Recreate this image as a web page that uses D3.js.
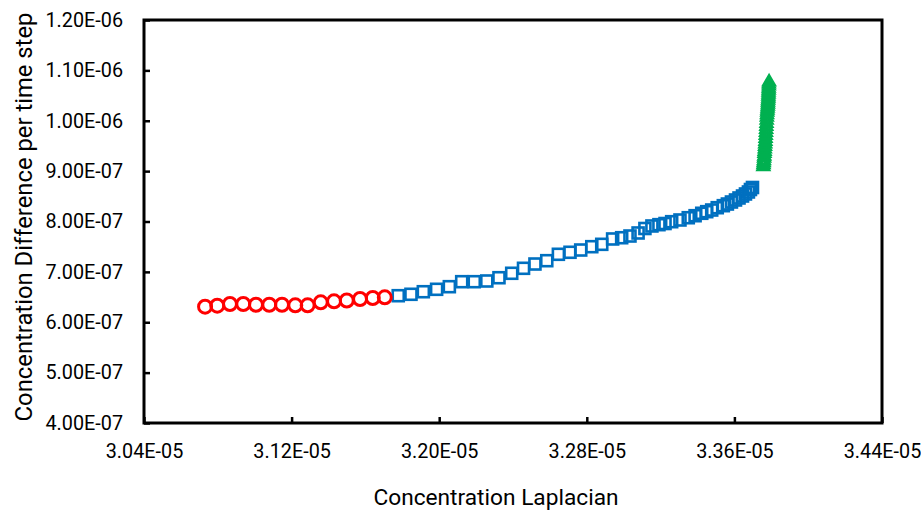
<!DOCTYPE html>
<html>
<head>
<meta charset="utf-8">
<script src="https://cdn.jsdelivr.net/npm/d3@7"></script>
<style>
  body { margin: 0; background: #fff; }
  text { font-family: Roboto, "Noto Sans", sans-serif; fill: #000; }
</style>
</head>
<body>
<svg id="chart" width="921" height="510"></svg>
<script>
// red circles
const redX = [3.0731, 3.0797, 3.0866, 3.0938, 3.1007, 3.1079, 3.1148, 3.1220, 3.1287, 3.1358, 3.1430, 3.1499, 3.1571, 3.1640, 3.1705]
const redY = [6.309, 6.329, 6.362, 6.362, 6.348, 6.348, 6.348, 6.336, 6.336, 6.396, 6.416, 6.432, 6.462, 6.481, 6.495]

// blue squares
const blueX = [3.1778, 3.1847, 3.1914, 3.1986, 3.2055, 3.2122, 3.2190, 3.2258, 3.2324, 3.2393,
    3.2457, 3.2519, 3.2583, 3.2646, 3.2709, 3.2767, 3.2827, 3.2881, 3.2940, 3.2989,
    3.3034, 3.3078, 3.3115, 3.3153, 3.3191, 3.3224, 3.3260, 3.3305, 3.3350, 3.3387,
    3.3423, 3.3450, 3.3477, 3.3507, 3.3540, 3.3562, 3.3584, 3.3606, 3.3625, 3.3644,
    3.3660, 3.3676, 3.3687, 3.3698]
const blueY = [6.527, 6.555, 6.606, 6.654, 6.706, 6.805, 6.805, 6.819, 6.884, 6.972,
    7.071, 7.156, 7.222, 7.349, 7.389, 7.434, 7.500, 7.547, 7.653, 7.678,
    7.712, 7.772, 7.861, 7.911, 7.937, 7.960, 7.996, 8.030, 8.075, 8.115,
    8.163, 8.195, 8.228, 8.274, 8.314, 8.347, 8.387, 8.427, 8.467, 8.506,
    8.546, 8.586, 8.635, 8.675]

// green triangles
const greenX = [3.3757, 3.3758, 3.3759, 3.3760, 3.3761, 3.3762, 3.3763, 3.3764, 3.3765, 3.3766,
    3.3767, 3.3768, 3.3769, 3.3770, 3.3771, 3.3772, 3.3773, 3.3774, 3.3775, 3.3776,
    3.3777, 3.3778, 3.3779, 3.3780, 3.3781, 3.3782, 3.3782, 3.3783, 3.3784, 3.3784,
    3.3785, 3.3785, 3.3786, 3.3786, 3.3787, 3.3787, 3.3788]
const greenY = [9.10, 9.14, 9.18, 9.22, 9.27, 9.31, 9.36, 9.40, 9.45, 9.50,
    9.55, 9.60, 9.66, 9.72, 9.78, 9.84, 9.90, 9.96, 10.02, 10.08,
    10.13, 10.18, 10.22, 10.26, 10.30, 10.34, 10.38, 10.42, 10.46, 10.50,
    10.54, 10.58, 10.62, 10.66, 10.70, 10.74, 10.78]

const xTicks = [3.04e-5, 3.12e-5, 3.20e-5, 3.28e-5, 3.36e-5, 3.44e-5]
const yTicks = [4e-7, 5e-7, 6e-7, 7e-7, 8e-7, 9e-7, 1.0e-6, 1.1e-6, 1.2e-6]

const xTitle = "Concentration Laplacian"
const yTitle = "Concentration Difference per time step"

// x values are in 1e-5, y values in 1e-7
function pts(xs, ys) {
    return xs.map((v, i) => ({ x: v * 1e-5, y: ys[i] * 1e-7 }))
}

function sci(v) {
    const parts = v.toExponential(2).split("e")
    const e = +parts[1]
    return parts[0] + "E" + (e < 0 ? "-" : "+") + String(Math.abs(e)).padStart(2, "0")
}

const plotLeft = 144, plotRight = 882, plotTop = 20, plotBottom = 423

const svg = d3.select("#chart")

const x = d3.scaleLinear().domain([3.04e-5, 3.44e-5]).range([plotLeft, plotRight])
const y = d3.scaleLinear().domain([4e-7, 1.2e-6]).range([plotBottom, plotTop])

// frame
svg.append("rect")
    .attr("x", plotLeft).attr("y", plotTop)
    .attr("width", plotRight - plotLeft).attr("height", plotBottom - plotTop)
    .attr("fill", "none").attr("stroke", "#000").attr("stroke-width", 3)

const xAxis = svg.append("g")
    .attr("transform", `translate(0,${plotBottom})`)
    .call(d3.axisBottom(x).tickValues(xTicks).tickFormat(sci).tickSize(-6).tickPadding(21))
const yAxis = svg.append("g")
    .attr("transform", `translate(${plotLeft},0)`)
    .call(d3.axisLeft(y).tickValues(yTicks).tickFormat(sci).tickSize(-6).tickPadding(21))

for (const ax of [xAxis, yAxis]) {
    ax.select(".domain").remove()
    ax.selectAll(".tick line").attr("stroke", "#000").attr("stroke-width", 2.5)
    ax.selectAll(".tick text").attr("font-size", 19.8).attr("font-family", null).attr("fill", "#000")
}

// titles
svg.append("text")
    .attr("x", 496).attr("y", 505)
    .attr("text-anchor", "middle")
    .attr("font-size", 22.7)
    .text(xTitle)

svg.append("text")
    .attr("transform", "translate(32,217) rotate(-90)")
    .attr("text-anchor", "middle")
    .attr("font-size", 23.8)
    .text(yTitle)

// series
svg.append("g")
    .selectAll("rect")
    .data(pts(blueX, blueY))
    .join("rect")
    .attr("x", d => x(d.x) - 5.5)
    .attr("y", d => y(d.y) - 5.5)
    .attr("width", 11).attr("height", 11)
    .attr("fill", "none")
    .attr("stroke", "#0070C0")
    .attr("stroke-width", 2.6)

svg.append("g")
    .selectAll("circle")
    .data(pts(redX, redY))
    .join("circle")
    .attr("cx", d => x(d.x))
    .attr("cy", d => y(d.y))
    .attr("r", 6.5)
    .attr("fill", "none")
    .attr("stroke", "#FF0000")
    .attr("stroke-width", 3)

const tri = "M0,-6.5L6,4L-6,4Z"
svg.append("g")
    .selectAll("path")
    .data(pts(greenX, greenY))
    .join("path")
    .attr("transform", d => `translate(${x(d.x)},${y(d.y)})`)
    .attr("d", tri)
    .attr("fill", "none")
    .attr("stroke", "#00B050")
    .attr("stroke-width", 2.25)
</script>
</body>
</html>
